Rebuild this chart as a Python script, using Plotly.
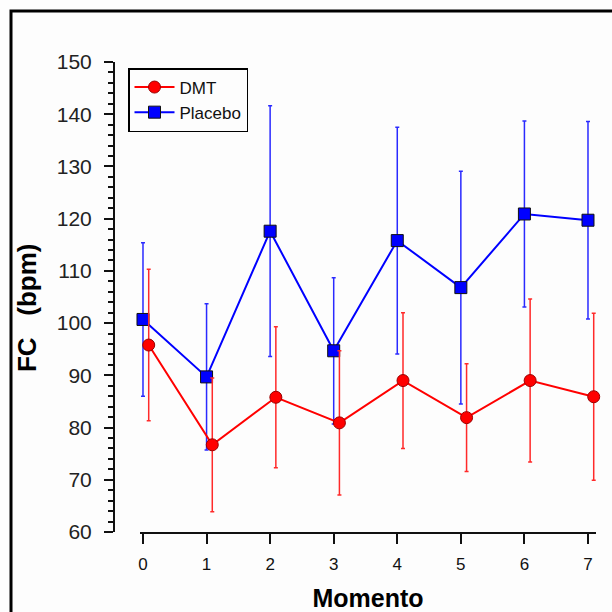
import plotly.graph_objects as go

moments = [0, 1, 2, 3, 4, 5, 6, 7]
dmt_mean = [95.8, 76.7, 85.8, 80.9, 89.0, 81.9, 89.0, 85.9]
dmt_sd = [14.5, 12.8, 13.5, 13.8, 13.0, 10.3, 15.6, 16.0]
placebo_mean = [100.7, 89.7, 117.6, 94.7, 115.8, 106.8, 120.9, 119.7]
placebo_sd = [14.7, 14.0, 24.0, 14.0, 21.7, 22.3, 17.8, 18.9]
y_ticks = [60, 70, 80, 90, 100, 110, 120, 130, 140, 150]

DMT_SHIFT = 0.09  # horizontal offset of DMT series (style)
dmt_x = [m + DMT_SHIFT for m in moments]

fig = go.Figure()
fig.add_trace(go.Scatter(
    x=moments, y=placebo_mean, name="Placebo", mode="lines+markers",
    line=dict(color="#0000FF", width=2),
    marker=dict(symbol="square", size=12, color="#0000FF",
                line=dict(color="#111111", width=1)),
    error_y=dict(type="data", array=placebo_sd, visible=True,
                 color="#2a2aff", thickness=1.5, width=2),
    cliponaxis=False,
))
fig.add_trace(go.Scatter(
    x=dmt_x, y=dmt_mean, name="DMT", mode="lines+markers",
    line=dict(color="#FF0000", width=2),
    marker=dict(symbol="circle", size=12, color="#FF0000",
                line=dict(color="#990000", width=1)),
    error_y=dict(type="data", array=dmt_sd, visible=True,
                 color="#ff2a2a", thickness=1.5, width=2),
    cliponaxis=False,
))

L, R, T, B = 114, 16, 62, 80
W = 612
pw = W - L - R
ph = 612 - T - B

fig.update_layout(
    width=612, height=612,
    margin=dict(l=L, r=R, t=T, b=B, autoexpand=False),
    paper_bgcolor="#fdfdfd", plot_bgcolor="#fdfdfd",
    font=dict(family="Arial, Liberation Sans, sans-serif", color="#111111"),
    showlegend=True,
    legend=dict(
        x=(128 - L) / pw, y=(532 - 68) / ph, xanchor="left", yanchor="top",
        bordercolor="black", borderwidth=1.5, bgcolor="rgba(0,0,0,0)",
        font=dict(size=17, family="Arial, Liberation Sans, sans-serif", color="#111111"),
        traceorder="reversed", tracegroupgap=0, itemwidth=40,
    ),
    xaxis=dict(
        domain=[(140 - L) / pw, 1],
        range=[-0.047, 7.126],
        automargin=False,
        tickmode="array", tickvals=moments, ticktext=[str(m) for m in moments],
        ticks="outside", ticklen=10, tickwidth=2, tickcolor="#111111",
        showline=True, linecolor="#111111", linewidth=2,
        showgrid=False, zeroline=False,
        tickfont=dict(size=17, color="#111111"),
        ticklabelstandoff=6,
        title=dict(text="<b>Momento</b>", font=dict(size=25, color="black"), standoff=16),
    ),
    yaxis=dict(
        anchor="free", position=0,
        range=[60, 150],
        automargin=False,
        tickmode="array", tickvals=y_ticks,
        ticks="outside", ticklen=9, tickwidth=2, tickcolor="#111111",
        minor=dict(dtick=2, ticks="outside", ticklen=5, tickwidth=2, tickcolor="#111111"),
        showline=True, linecolor="#111111", linewidth=2,
        showgrid=False, zeroline=False,
        tickfont=dict(size=21, color="#222222"),
        ticklabelstandoff=8,
        title=dict(text="<b>FC\u00a0\u00a0\u00a0(bpm)\u00a0\u00a0\u00a0</b>", font=dict(size=26, color="black"), standoff=12),
    ),
)

# outer frame (only top and left edges visible in the reference)
fig.add_shape(type="rect", xref="paper", yref="paper",
              x0=(11 - L) / pw, x1=1.3, y0=-0.4, y1=(612 - B - 11) / ph,
              line=dict(color="black", width=3), fillcolor="rgba(0,0,0,0)", layer="above")

fig.write_html("out.html")
